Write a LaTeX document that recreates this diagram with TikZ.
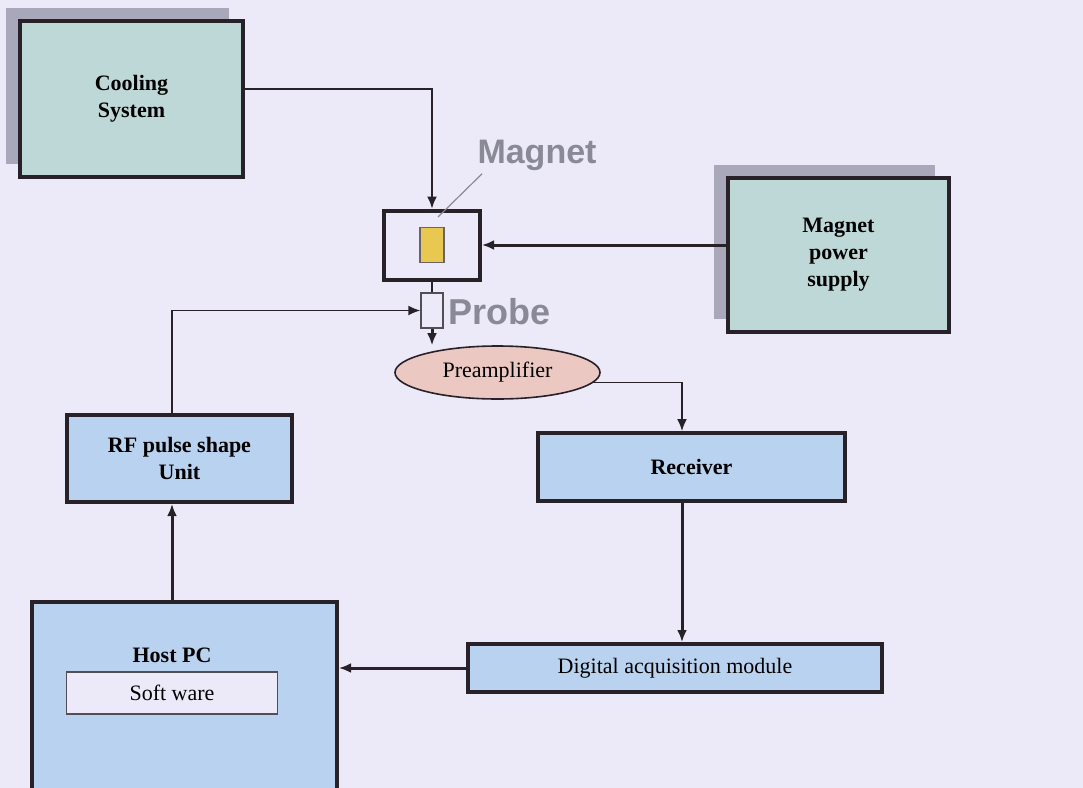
\documentclass[tikz,border=0pt]{standalone}
\usepackage{fontspec}
\setmainfont{Liberation Serif}
\newfontfamily\tagfont{Liberation Sans}
\usetikzlibrary{shapes.geometric,shadows,arrows.meta}

\definecolor{pagebg}{RGB}{236,234,248}
\definecolor{boxline}{RGB}{40,34,40}
\definecolor{plantteal}{RGB}{190,216,216}
\definecolor{unitblue}{RGB}{184,210,240}
\definecolor{preamppink}{RGB}{236,200,194}
\definecolor{coreyellow}{RGB}{232,200,80}
\definecolor{shadowgrey}{RGB}{169,167,186}
\definecolor{taggrey}{RGB}{138,138,150}

\begin{document}
\begin{tikzpicture}[x=0.5pt, y=-0.5pt,
    >={Latex[length=6pt,width=5pt]},
    block/.style={draw=boxline, line width=2pt, inner sep=2pt, align=center,
      font=\fontsize{11}{13.5}\selectfont\bfseries},
    unit/.style={block, fill=unitblue},
    plant/.style={block, fill=plantteal,
      drop shadow={shadow xshift=-7pt, shadow yshift=6.5pt,
        fill=shadowgrey, opacity=1}},
    tag/.style={text=taggrey, inner sep=0pt,
      font=\tagfont\fontsize{17}{17}\selectfont\bfseries},
    link/.style={draw=boxline, line width=1.5pt},
    fine/.style={draw=boxline, line width=0.8pt}]

  \fill[pagebg] (0,0) rectangle (1083,788);
  \useasboundingbox (0,0) rectangle (1083,788);

  % cooling, magnet and its supply
  \node[plant, minimum width=111.5pt, minimum height=78pt] (cool) at (131.5,99)
    {Cooling\\System};
  \node[plant, minimum width=110.5pt, minimum height=77pt] (mps) at (838.5,255)
    {Magnet\\power\\supply};
  \node[draw=boxline, line width=2pt, fill=pagebg, minimum width=48pt,
    minimum height=34.5pt] (magnet) at (432,245) {};
  \node[draw=boxline!70, line width=0.6pt, fill=coreyellow, minimum width=12pt,
    minimum height=17.5pt, inner sep=0pt] (core) at (432,245) {};
  \node[tag] (maglbl) at (537,155) {Magnet};
  \coordinate (magtip) at (438,217);

  % probe and receive chain
  \node[draw=boxline!80, line width=0.7pt, fill=pagebg, minimum width=11pt,
    minimum height=17.5pt, inner sep=0pt] (probe) at (432,310.5) {};
  \node[tag, anchor=west, font=\tagfont\fontsize{18}{18}\selectfont\bfseries]
    (probelbl) at (448,312) {Probe};
  \node[ellipse, draw=boxline, line width=0.8pt, fill=preamppink,
    minimum width=102.5pt, minimum height=26.5pt, inner sep=0pt,
    font=\fontsize{11}{13.5}\selectfont] (preamp) at (497.5,372.5) {Preamplifier};
  \node[unit, minimum width=153.5pt, minimum height=34pt] (recv) at (691.5,467)
    {Receiver};
  \node[unit, font=\fontsize{11}{13.5}\selectfont, minimum width=207pt,
    minimum height=24pt] (daq) at (675,668) {Digital acquisition module};

  % transmit side
  \node[unit, minimum width=112.5pt, minimum height=43.5pt] (rf) at (179.5,458.5)
    {RF pulse shape\\Unit};
  \node[unit, minimum width=152.5pt, minimum height=114pt] (host) at (184.5,716) {};
  \node[font=\fontsize{11}{13.5}\selectfont\bfseries] (hostlbl) at (172,655) {Host PC};
  \node[draw=boxline!80, line width=0.7pt, fill=pagebg, minimum width=105.5pt,
    minimum height=21pt, font=\fontsize{11}{13.5}\selectfont] (soft) at (172,693)
    {Soft ware};

  % connections
  \draw[fine, ->] ([yshift=5pt]cool.east) -| (magnet.north);
  \draw[link, ->] ([yshift=5pt]mps.west) -- (magnet.east);
  \draw[draw=taggrey, line width=0.6pt] ([xshift=2.5pt,yshift=-1.5pt]maglbl.south west) -- (magtip);
  \draw[fine] (magnet.south) -- (probe.north);
  \draw[fine, ->] ([xshift=-3.75pt]rf.north) |- (probe.west);
  \draw[link, ->] (probe.south) -- (probe.south |- preamp.north);
  \draw[fine, ->] (preamp.-6) -| ([xshift=-4.75pt]recv.north);
  \draw[link, ->] ([xshift=-4.75pt]recv.south) -- ([xshift=-4.75pt]recv.south |- daq.north);
  \draw[link, ->] (daq.west) -- (daq.west -| host.east);
  \draw[link, ->] ([xshift=-6.25pt]host.north) -- ([xshift=-6.25pt]host.north |- rf.south);
\end{tikzpicture}
\end{document}
